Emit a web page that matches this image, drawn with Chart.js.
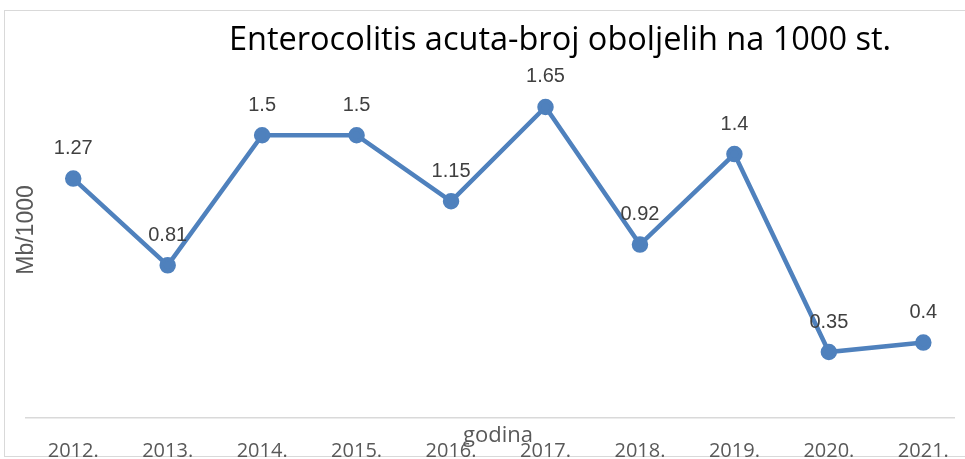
<!DOCTYPE html>
<html lang="hr">
<head>
<meta charset="UTF-8">
<title>Enterocolitis acuta</title>
<script src="https://cdn.jsdelivr.net/npm/chart.js@4"></script>
<style>
  html, body { margin: 0; padding: 0; background: #fff; }
  #wrap { position: relative; width: 965px; height: 459px; }
  #frame { position: absolute; left: 4px; top: 10px; width: 970px; height: 447px; border: 1px solid #d9d9d9; box-sizing: border-box; }
  canvas { position: absolute; left: 0; top: 0; }
</style>
</head>
<body>
<div id="wrap">
  <div id="frame"></div>
  <canvas id="chart" width="965" height="459"></canvas>
</div>
<script>
// incidence per 1000 inhabitants, by year
const years = ['2012.', '2013.', '2014.', '2015.', '2016.', '2017.', '2018.', '2019.', '2020.', '2021.'];
const rates = [1.27, 0.81, 1.5, 1.5, 1.15, 1.65, 0.92, 1.4, 0.35, 0.4];
const valueLabels = ['1.27', '0.81', '1.5', '1.5', '1.15', '1.65', '0.92', '1.4', '0.35', '0.4'];

const chartTitle = 'Enterocolitis acuta-broj oboljelih na 1000 st.';
const yTitle = 'Mb/1000';
const xTitle = 'godina';

const sans = '"Open Sans", "Liberation Sans", sans-serif';

// titles and value labels are painted by hand so they can sit where they belong
const textPlugin = {
  id: 'texts',
  afterDatasetsDraw(chart) {
    const ctx = chart.ctx;
    const meta = chart.getDatasetMeta(0);
    ctx.save();
    ctx.textAlign = 'center';
    ctx.textBaseline = 'middle';

    ctx.fillStyle = '#404040';
    ctx.font = '20px "Liberation Sans", Arial, sans-serif';
    meta.data.forEach((pt, i) => {
      ctx.fillText(valueLabels[i], pt.x, pt.y - 30);
    });

    ctx.fillStyle = '#000';
    ctx.font = '32.5px ' + sans;
    ctx.fillText(chartTitle, 560, 41);

    ctx.fillStyle = '#595959';
    ctx.font = '22px ' + sans;
    ctx.fillText(xTitle, 498, 436);

    ctx.translate(27, 230);
    ctx.rotate(-Math.PI / 2);
    ctx.font = '23px "Liberation Sans", Arial, sans-serif';
    ctx.fillText(yTitle, 0, 0);
    ctx.restore();
  }
};

new Chart(document.getElementById('chart'), {
  type: 'line',
  data: {
    datasets: [{
      data: rates.map((v, i) => ({ x: i, y: v })),
      borderColor: '#4f81bd',
      backgroundColor: '#4f81bd',
      borderWidth: 4.5,
      pointRadius: 6,
      pointHoverRadius: 6,
      pointBackgroundColor: '#4f81bd',
      pointBorderColor: '#4f81bd',
      tension: 0
    }]
  },
  options: {
    responsive: false,
    animation: false,
    events: [],
    layout: { padding: { left: 26, right: 2, top: 41, bottom: 0 } },
    plugins: {
      legend: { display: false },
      title: { display: false },
      tooltip: { enabled: false }
    },
    scales: {
      x: {
        type: 'linear',
        min: -0.5,
        max: 9.33,
        afterBuildTicks: s => { s.ticks = years.map((_, i) => ({ value: i })); },
        // fixed band under the axis; no extra room reserved for edge labels
        afterFit: s => { s.height = 41; s.paddingLeft = 0; s.paddingRight = 0; },
        grid: { display: false, drawTicks: false },
        border: { display: true, color: '#d9d9d9', width: 1.5 },
        ticks: {
          padding: 21,
          autoSkip: false,
          maxRotation: 0,
          color: '#595959',
          font: { size: 20, family: sans },
          callback: v => years[v]
        }
      },
      y: {
        display: false,
        min: 0,
        max: 2
      }
    }
  },
  plugins: [textPlugin]
});
</script>
</body>
</html>
